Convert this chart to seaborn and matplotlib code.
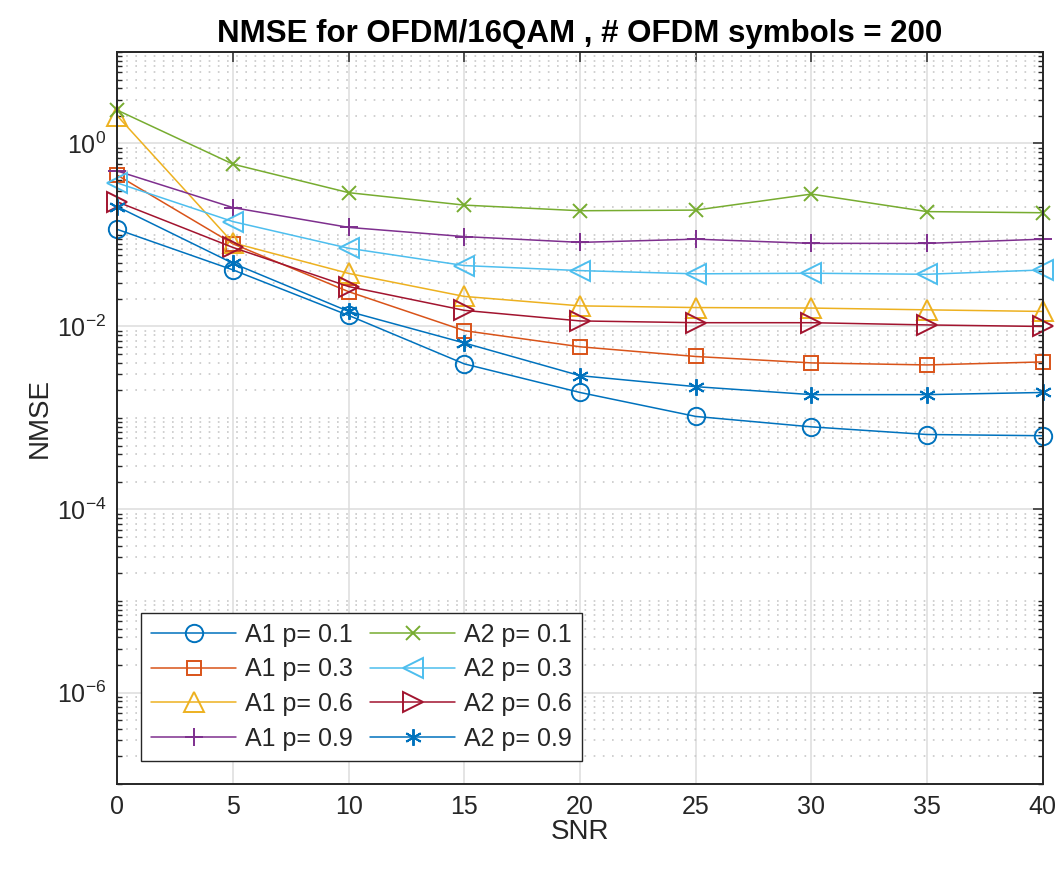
import numpy as np
import pandas as pd
import matplotlib
matplotlib.use("Agg")
import matplotlib.pyplot as plt
from matplotlib.ticker import FixedLocator, LogLocator, LogFormatterSciNotation, NullFormatter
import seaborn as sns

# ---------------- data ----------------
snr = [0, 5, 10, 15, 20, 25, 30, 35, 40]

a1_p01 = [0.115, 0.0415, 0.0132, 0.0039, 0.0019, 0.00104, 0.00080, 0.00066, 0.00064]
a1_p03 = [0.45, 0.080, 0.024, 0.0090, 0.0060, 0.0047, 0.0040, 0.0038, 0.0041]
a1_p06 = [2.0, 0.082, 0.038, 0.0213, 0.0168, 0.0161, 0.0159, 0.0152, 0.0146]
a1_p09 = [0.50, 0.199, 0.121, 0.096, 0.083, 0.090, 0.081, 0.081, 0.090]
a2_p01 = [2.31, 0.594, 0.29, 0.212, 0.184, 0.187, 0.28, 0.18, 0.175]
a2_p03 = [0.37, 0.14, 0.0716, 0.0463, 0.0408, 0.0376, 0.0382, 0.0372, 0.0415]
a2_p06 = [0.23, 0.073, 0.0273, 0.0150, 0.0115, 0.0110, 0.0110, 0.0104, 0.0100]
a2_p09 = [0.204, 0.049, 0.0146, 0.0066, 0.0029, 0.0022, 0.0018, 0.0018, 0.0019]

labels = ["A1 p= 0.1", "A1 p= 0.3", "A1 p= 0.6", "A1 p= 0.9",
          "A2 p= 0.1", "A2 p= 0.3", "A2 p= 0.6", "A2 p= 0.9"]
series = [a1_p01, a1_p03, a1_p06, a1_p09, a2_p01, a2_p03, a2_p06, a2_p09]

y_major_ticks = [1e-6, 1e-4, 1e-2, 1e0]
x_ticks = [0, 5, 10, 15, 20, 25, 30, 35, 40]

# ---------------- styles ----------------
colors = ["#0072BD", "#D95319", "#EDB120", "#7E2F8E",
          "#77AC30", "#4DBEEE", "#A2142F", "#0072BD"]
markers = ["o", "s", "^", "+", "x", "<", ">", (6, 2, 0)]
msizes = [12.5, 10.0, 14.0, 12.5, 9.5, 14.0, 14.0, 12.0]

sns.set_style("white")
plt.rcParams["font.family"] = ["Liberation Sans", "DejaVu Sans"]
plt.rcParams["mathtext.fontset"] = "custom"
plt.rcParams["mathtext.rm"] = "Liberation Sans"
plt.rcParams["mathtext.it"] = "Liberation Sans:italic"
plt.rcParams["mathtext.bf"] = "Liberation Sans:bold"

fig = plt.figure(figsize=(10.61, 8.69), dpi=100)
ax = fig.add_axes([0.1106, 0.0978, 0.8722, 0.8424])

for vals, lab, c, m, ms in zip(series, labels, colors, markers, msizes):
    sns.lineplot(x=snr, y=vals, ax=ax, color=c, marker=m, markersize=ms,
                 markerfacecolor="none", markeredgecolor=c, markeredgewidth=1.4,
                 linewidth=1.1, label=lab, errorbar=None, sort=False,
                 clip_on=False, legend=False)

ax.set_yscale("log")
ax.set_xlim(0, 40)
ax.set_ylim(1e-7, 10)

ax.xaxis.set_major_locator(FixedLocator(x_ticks))
ax.yaxis.set_major_locator(FixedLocator(y_major_ticks))
ax.yaxis.set_major_formatter(LogFormatterSciNotation())
ax.yaxis.set_minor_locator(LogLocator(base=10, subs=np.arange(1, 10), numticks=100))
ax.yaxis.set_minor_formatter(NullFormatter())

spine_c = "#262626"
for sp in ax.spines.values():
    sp.set_visible(True)
    sp.set_color(spine_c)
    sp.set_linewidth(1.4)

ax.tick_params(axis="both", which="major", direction="in", length=7, width=1.1,
               color=spine_c, labelsize=18, labelcolor="#262626", pad=8,
               top=True, right=True)
ax.tick_params(axis="y", which="minor", direction="in", length=3.6, width=1.0,
               color=spine_c, left=True, right=True)

ax.set_axisbelow(True)
ax.grid(which="major", axis="both", color="#dcdcdc", linewidth=1.1, linestyle="-")
ax.grid(which="minor", axis="y", color="#c8c8c8", linewidth=1.2,
        linestyle=(0, (1, 4.5)))

ax.set_title("NMSE for OFDM/16QAM , # OFDM symbols = 200", fontsize=22.5,
             fontweight="bold", color="black", pad=7)
ax.set_xlabel("SNR", fontsize=20, color="#262626", labelpad=0)
ax.set_ylabel("NMSE", fontsize=20, color="#262626", labelpad=2.5)

handles, labs = ax.get_legend_handles_labels()
leg = ax.legend(handles, labs, ncol=2, loc="lower left",
                bbox_to_anchor=(0.0256, 0.0315), borderaxespad=0,
                fontsize=18, frameon=True, fancybox=False, framealpha=1,
                edgecolor="#262626", handlelength=3.4, handletextpad=0.35,
                columnspacing=0.7, labelspacing=0.43, borderpad=0.4)
leg.get_frame().set_linewidth(1.0)

fig.savefig("out.png", dpi=100)
